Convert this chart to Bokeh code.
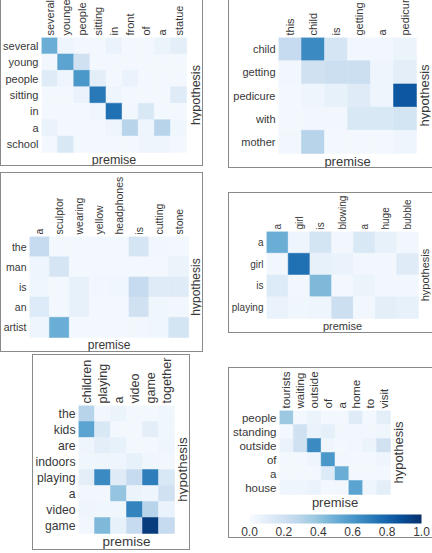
import math
from bokeh.plotting import figure
from bokeh.models import (Range1d, LinearAxis, FixedTicker, ColumnDataSource, Label,
                          LinearColorMapper, ColorBar, PrintfTickFormatter, Spacer)
from bokeh.layouts import row, column
from bokeh.palettes import Blues256
from bokeh.transform import transform
from bokeh.embed import file_html
from bokeh.resources import INLINE

FONT = "Liberation Sans"
TXT = "#383838"
EDGE = "#8a8a8a"
PALETTE = list(reversed(Blues256))

# ---------------- data ----------------
p1_premise = ["several", "younger", "people", "sitting", "in", "front", "of", "a", "statue"]
p1_hypothesis = ["several", "young", "people", "sitting", "in", "a", "school"]
p1_attention = [
    [0.50, 0.05, 0.02, 0.02, 0.07, 0.02, 0.02, 0.06, 0.10],
    [0.03, 0.55, 0.20, 0.02, 0.02, 0.02, 0.02, 0.02, 0.02],
    [0.12, 0.05, 0.60, 0.10, 0.02, 0.07, 0.02, 0.02, 0.02],
    [0.02, 0.02, 0.07, 0.72, 0.05, 0.02, 0.02, 0.02, 0.12],
    [0.02, 0.02, 0.02, 0.04, 0.75, 0.03, 0.15, 0.02, 0.02],
    [0.07, 0.02, 0.02, 0.02, 0.05, 0.30, 0.05, 0.30, 0.04],
    [0.02, 0.15, 0.02, 0.02, 0.02, 0.02, 0.05, 0.05, 0.02],
]

p2_premise = ["this", "child", "is", "getting", "a", "pedicure"]
p2_hypothesis = ["child", "getting", "pedicure", "with", "mother"]
p2_attention = [
    [0.25, 0.65, 0.17, 0.03, 0.03, 0.06],
    [0.03, 0.20, 0.22, 0.22, 0.05, 0.10],
    [0.02, 0.05, 0.08, 0.12, 0.05, 0.85],
    [0.02, 0.03, 0.03, 0.15, 0.15, 0.18],
    [0.03, 0.30, 0.02, 0.02, 0.02, 0.05],
]

p3_premise = ["a", "sculptor", "wearing", "yellow", "headphones", "is", "cutting", "stone"]
p3_hypothesis = ["the", "man", "is", "an", "artist"]
p3_attention = [
    [0.25, 0.02, 0.02, 0.02, 0.02, 0.17, 0.03, 0.02],
    [0.05, 0.17, 0.02, 0.02, 0.02, 0.02, 0.02, 0.06],
    [0.04, 0.02, 0.08, 0.03, 0.04, 0.25, 0.12, 0.12],
    [0.13, 0.02, 0.08, 0.02, 0.02, 0.20, 0.04, 0.03],
    [0.05, 0.50, 0.02, 0.02, 0.02, 0.03, 0.04, 0.18],
]

p4_premise = ["a", "girl", "is", "blowing", "a", "huge", "bubble"]
p4_hypothesis = ["a", "girl", "is", "playing"]
p4_attention = [
    [0.50, 0.05, 0.18, 0.03, 0.15, 0.08, 0.03],
    [0.03, 0.75, 0.08, 0.07, 0.03, 0.03, 0.12],
    [0.13, 0.03, 0.45, 0.02, 0.06, 0.03, 0.03],
    [0.07, 0.04, 0.05, 0.22, 0.03, 0.10, 0.08],
]

p5_premise = ["children", "playing", "a", "video", "game", "together"]
p5_hypothesis = ["the", "kids", "are", "indoors", "playing", "a", "video", "game"]
p5_attention = [
    [0.30, 0.03, 0.06, 0.02, 0.02, 0.04],
    [0.55, 0.15, 0.02, 0.02, 0.10, 0.04],
    [0.05, 0.10, 0.08, 0.02, 0.02, 0.05],
    [0.04, 0.05, 0.05, 0.08, 0.04, 0.03],
    [0.10, 0.65, 0.12, 0.25, 0.70, 0.15],
    [0.03, 0.03, 0.40, 0.06, 0.05, 0.20],
    [0.05, 0.04, 0.04, 0.68, 0.30, 0.07],
    [0.03, 0.45, 0.08, 0.25, 0.95, 0.25],
]

p6_premise = ["tourists", "waiting", "outside", "of", "a", "home", "to", "visit"]
p6_hypothesis = ["people", "standing", "outside", "of", "a", "house"]
p6_attention = [
    [0.38, 0.02, 0.06, 0.02, 0.02, 0.12, 0.02, 0.10],
    [0.02, 0.20, 0.07, 0.09, 0.03, 0.03, 0.03, 0.04],
    [0.07, 0.20, 0.65, 0.05, 0.02, 0.03, 0.06, 0.20],
    [0.02, 0.02, 0.05, 0.60, 0.03, 0.02, 0.02, 0.05],
    [0.02, 0.02, 0.02, 0.13, 0.50, 0.02, 0.02, 0.02],
    [0.05, 0.05, 0.07, 0.02, 0.03, 0.55, 0.05, 0.10],
]

colorbar_ticks = [0.0, 0.2, 0.4, 0.6, 0.8, 1.0]

mapper = LinearColorMapper(palette=PALETTE, low=0.0, high=1.0)

SHIFT = 20  # top panels are cut by the page top
RB = 2      # right border: the frame runs past the cells to hold "hypothesis"

FULL = "inset 0 0 0 1px " + EDGE
OPEN_RIGHT = ("inset 1px 0 0 0 %s, inset 0 1px 0 0 %s, inset 0 -1px 0 0 %s" % (EDGE, EDGE, EDGE))


def panel(premise, hypothesis, att, width, height, lb, tb, bb, cells_w, cells_h,
          tick_fs, col_fs, lab_fs, hyp_off, prem_off, box_css):
    nx, ny = len(premise), len(hypothesis)
    frame_w = width - lb - RB
    frame_h = height - tb - bb
    cw = cells_w / nx
    ch = cells_h / ny
    xs, ys, vs = [], [], []
    for j, rowvals in enumerate(att):
        for i, v in enumerate(rowvals):
            xs.append(i)
            ys.append(j)
            vs.append(v)
    src = ColumnDataSource(dict(x=xs, y=ys, v=vs))
    p = figure(width=width, height=height, output_backend="svg", toolbar_location=None,
               x_range=Range1d(-0.5, -0.5 + frame_w / cw),
               y_range=Range1d(-0.5 + frame_h / ch, -0.5),
               x_axis_location=None, y_axis_location=None,
               min_border_left=lb, min_border_right=RB, min_border_top=tb, min_border_bottom=bb)
    p.grid.visible = False
    p.outline_line_color = None
    p.border_fill_alpha = 0
    p.background_fill_alpha = 0
    p.rect(x="x", y="y", width=1, height=1, source=src,
           fill_color=transform("v", mapper), line_color=transform("v", mapper),
           line_width=0.5)

    def base_axis(ax, fs):
        ax.axis_line_color = None
        ax.major_tick_line_color = None
        ax.minor_tick_line_color = None
        ax.major_tick_out = 0
        ax.major_tick_in = 0
        ax.minor_tick_out = 0
        ax.major_label_text_font = FONT
        ax.major_label_text_color = TXT
        ax.major_label_text_font_size = fs
        return ax

    top = base_axis(LinearAxis(ticker=FixedTicker(ticks=list(range(nx))),
                               major_label_overrides={i: w for i, w in enumerate(premise)}),
                    col_fs)
    top.major_label_orientation = math.pi / 2
    top.major_label_standoff = 2
    p.add_layout(top, "above")

    left = base_axis(LinearAxis(ticker=FixedTicker(ticks=list(range(ny))),
                                major_label_overrides={j: w for j, w in enumerate(hypothesis)}),
                     tick_fs)
    left.major_label_standoff = 3
    p.add_layout(left, "left")

    prem = Label(x=(nx - 1) / 2, y=ny - 0.5, y_offset=-prem_off, text="premise",
                 text_align="center", text_baseline="middle",
                 text_font=FONT, text_font_size=lab_fs, text_color=TXT)
    p.add_layout(prem)
    hyp = Label(x=nx - 0.5, y=(ny - 1) / 2, x_offset=hyp_off, text="hypothesis",
                angle=math.pi / 2, text_align="center", text_baseline="middle",
                text_font=FONT, text_font_size=lab_fs, text_color=TXT)
    p.add_layout(hyp)

    wrap = row(p)
    if box_css:
        wrap.styles = {"box-shadow": box_css}
    return wrap


p1 = panel(p1_premise, p1_hypothesis, p1_attention, 203, 166 + SHIFT,
           40, 37 + SHIFT, 1, 146, 115, "11px", "11px", "12.5px", 9, 7, FULL)
p2 = panel(p2_premise, p2_hypothesis, p2_attention, 204, 168 + SHIFT,
           50, 37 + SHIFT, 1, 138, 116, "11px", "11px", "13px", 8, 7.5, OPEN_RIGHT)
p3 = panel(p3_premise, p3_hypothesis, p3_attention, 203, 180,
           27, 64, 1, 161, 101, "10.5px", "10.5px", "12px", 7.5, 7, FULL)
p4 = panel(p4_premise, p4_hypothesis, p4_attention, 204, 141,
           38, 39, 1, 152, 87, "10px", "10px", "11px", 6.5, 7, OPEN_RIGHT)
p5 = panel(p5_premise, p5_hypothesis, p5_attention, 158, 196,
           46, 51, 1, 96, 128, "12.2px", "12.5px", "13.5px", 7.5, 7.5, FULL)
p6 = panel(p6_premise, p6_hypothesis, p6_attention, 204, 143,
           51, 43, 0, 111, 84, "11.5px", "11.5px", "13px", 8, 8, None)

# colour bar strip under panel 6, inside the same box
cbf = figure(width=204, height=28, output_backend="svg", toolbar_location=None,
             x_range=Range1d(0, 1), y_range=Range1d(0, 1),
             x_axis_location=None, y_axis_location=None, min_border=0)
cbf.grid.visible = False
cbf.outline_line_color = None
cbf.border_fill_alpha = 0
cbf.background_fill_alpha = 0
cb = ColorBar(color_mapper=mapper, orientation="horizontal", width=172, height=9,
              ticker=FixedTicker(ticks=colorbar_ticks),
              formatter=PrintfTickFormatter(format="%.1f"),
              major_label_text_font=FONT, major_label_text_font_size="12px",
              major_label_text_color=TXT, major_tick_line_color=None,
              major_tick_in=0, major_tick_out=0, bar_line_color=None,
              label_standoff=3, padding=0, margin=0, location=(21, 0),
              background_fill_alpha=0, border_line_color=None)
cbf.add_layout(cb, "center")

box6 = column(p6, row(cbf), styles={"box-shadow": OPEN_RIGHT})

left_col = column(p1, Spacer(height=6), p3, Spacer(height=2),
                  row(Spacer(width=32), p5))
right_col = column(p2, Spacer(height=24), p4, Spacer(height=34), box6)
root = row(left_col, Spacer(width=25), right_col, margin=(-SHIFT, 0, 0, 0))

open("out.html", "w").write(file_html(root, INLINE))
